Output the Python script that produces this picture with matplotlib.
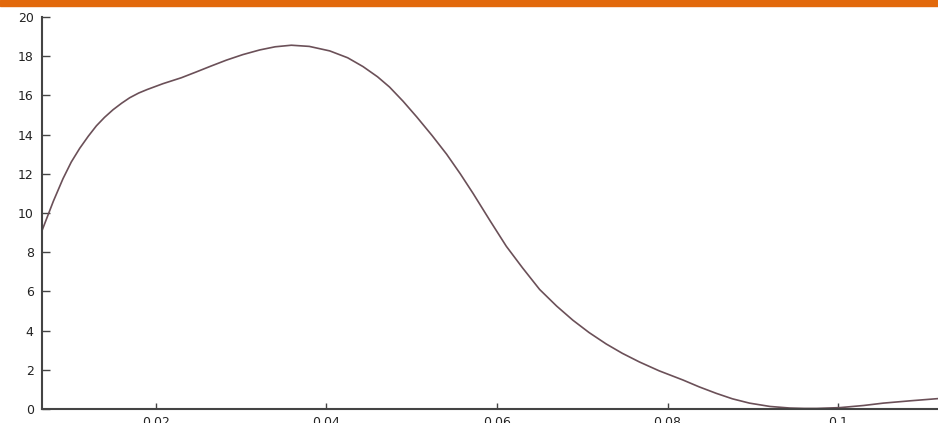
import numpy as np
import matplotlib
matplotlib.use("Agg")
import matplotlib.pyplot as plt
from matplotlib.patches import Rectangle

# sampled curve values
x = [0.00667, 0.0080, 0.00913, 0.0101, 0.01109, 0.0121, 0.01305, 0.0140, 0.0150,
     0.0160, 0.01695, 0.0180, 0.0190, 0.02086, 0.0230, 0.02477, 0.0265, 0.02829,
     0.0302, 0.0322, 0.0340, 0.0359, 0.0380, 0.0404, 0.0425, 0.0443, 0.0460,
     0.0474, 0.0490, 0.0506, 0.0524, 0.0541, 0.0557, 0.0572, 0.0592, 0.0611,
     0.0630, 0.0650, 0.0670, 0.0689, 0.0708, 0.0728, 0.0747, 0.0767, 0.0790,
     0.0818, 0.0837, 0.0857, 0.0876, 0.0896, 0.0920, 0.0943, 0.0960, 0.0975,
     0.1002, 0.1030, 0.1053, 0.1085, 0.1117]
y = [9.1, 10.6, 11.75, 12.6, 13.3, 13.92, 14.45, 14.88, 15.27,
     15.6, 15.88, 16.12, 16.3, 16.6, 16.9, 17.2, 17.5, 17.8,
     18.08, 18.32, 18.48, 18.56, 18.5, 18.27, 17.92, 17.47, 16.95,
     16.43, 15.7, 14.9, 13.95, 13.0, 12.0, 11.0, 9.6, 8.3,
     7.2, 6.1, 5.25, 4.53, 3.9, 3.32, 2.84, 2.4, 1.95,
     1.48, 1.13, 0.8, 0.52, 0.3, 0.13, 0.05, 0.03, 0.03,
     0.07, 0.18, 0.3, 0.42, 0.53]

yticks = [0, 2, 4, 6, 8, 10, 12, 14, 16, 18, 20]
xticks = [0.02, 0.04, 0.06, 0.08, 0.1]
xlabels = ["0.02", "0.04", "0.06", "0.08", "0.1"]

fig = plt.figure(figsize=(9.38, 4.23), dpi=100)
ax = fig.add_axes([42 / 938, 14 / 423, 896 / 938, 392 / 423])

ax.plot(x, y, color="#6b5058", lw=1.2, clip_on=False)

ax.set_xlim(0.00667, 0.1117)
ax.set_ylim(0, 20)
ax.set_yticks(yticks)
ax.set_yticklabels([str(v) for v in yticks])
ax.set_xticks(xticks)
ax.set_xticklabels(xlabels)

for s in ["top", "right"]:
    ax.spines[s].set_visible(False)
for s in ["left", "bottom"]:
    ax.spines[s].set_color("#444444")
    ax.spines[s].set_linewidth(1.5)

ax.tick_params(axis="y", direction="in", length=6, width=1, color="#444444",
               labelsize=9, labelcolor="#222222", pad=6)
ax.tick_params(axis="x", direction="in", length=4, width=1, color="#444444",
               labelsize=9, labelcolor="#222222", pad=5)

# orange strip along the top
fig.patches.append(Rectangle((0, 1 - 6 / 423), 1, 6 / 423, transform=fig.transFigure,
                             color="#e2690c", zorder=5))

fig.savefig("out.png", dpi=100)
